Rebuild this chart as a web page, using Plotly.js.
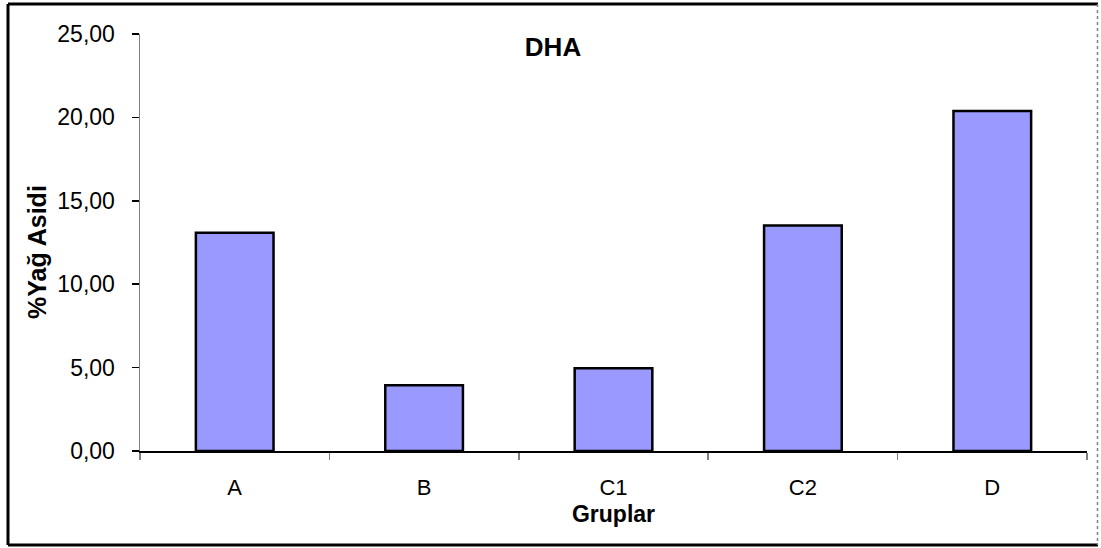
<!DOCTYPE html>
<html>
<head>
<meta charset="utf-8">
<script src="https://cdn.plot.ly/plotly-3.0.1.min.js"></script>
<style>
  html, body { margin: 0; padding: 0; background: #fff; }
  #chart { width: 1101px; height: 548px; }
</style>
</head>
<body>
<div id="chart"></div>
<script>
// Data
const categories = ["A", "B", "C1", "C2", "D"];
const values = [13.08, 3.94, 4.96, 13.52, 20.39];
const chartTitle = "DHA";
const xTitle = "Gruplar";
const yTitle = "%Yağ Asidi";

const FONT = "Liberation Sans, Arial, sans-serif";

const trace = {
  type: "bar",
  x: categories,
  y: values,
  marker: { color: "#9999FF", line: { color: "#000000", width: 2.5 } },
  hoverinfo: "x+y"
};

// helpers: convert page pixels to paper coordinates of the plot area
const PL = 140, PW = 947, PB = 451, PH = 417;
const px = v => (v - PL) / PW;
const py = v => (PB - v) / PH;

const layout = {
  width: 1101,
  height: 548,
  paper_bgcolor: "#ffffff",
  plot_bgcolor: "#ffffff",
  margin: { l: 140, r: 14, t: 34, b: 97 },
  bargap: 0.59,
  showlegend: false,
  separators: ",.",
  font: { family: FONT, color: "#000000", size: 23 },
  title: {
    text: "<b>" + chartTitle + "</b>",
    font: { family: FONT, size: 26, color: "#000000" },
    xref: "paper", x: px(553), xanchor: "center",
    yref: "container", y: 1 - 47 / 548, yanchor: "middle"
  },
  xaxis: {
    type: "category",
    showline: true, linecolor: "#000000", linewidth: 1.5,
    showgrid: false, zeroline: false,
    ticks: "outside", tickson: "boundaries", ticklen: 7, tickcolor: "#808080", tickwidth: 1.5,
    tickfont: { family: FONT, size: 22, color: "#000000" },
    ticklabelstandoff: 16,
    title: { text: "<b>" + xTitle + "</b>", font: { family: FONT, size: 23, color: "#000000" }, standoff: 7 },
    fixedrange: true
  },
  yaxis: {
    range: [0, 25],
    dtick: 5,
    tick0: 0,
    tickformat: ".2f",
    showline: true, linecolor: "#808080", linewidth: 1.5,
    showgrid: false, zeroline: false,
    ticks: "outside", ticklen: 7, tickcolor: "#000000", tickwidth: 1.5,
    tickfont: { family: FONT, size: 23, color: "#000000" },
    ticklabelstandoff: 12,
    fixedrange: true
  },
  annotations: [
    {
      text: "<b>" + yTitle + "</b>",
      xref: "paper", yref: "paper", x: px(37), y: py(252),
      xanchor: "center", yanchor: "middle", textangle: -90, showarrow: false,
      font: { family: FONT, size: 25, color: "#000000" }
    }
  ],
  shapes: [
    // outer chart frame
    { type: "line", xref: "paper", yref: "paper", x0: px(8), x1: px(1098), y0: py(4), y1: py(4), line: { color: "#000000", width: 3 } },
    { type: "line", xref: "paper", yref: "paper", x0: px(8), x1: px(8), y0: py(4), y1: py(545), line: { color: "#000000", width: 3 } },
    { type: "line", xref: "paper", yref: "paper", x0: px(8), x1: px(1098), y0: py(545), y1: py(545), line: { color: "#000000", width: 3 } },
    { type: "line", xref: "paper", yref: "paper", x0: px(1097.5), x1: px(1097.5), y0: py(4), y1: py(545), line: { color: "#808080", width: 1.5, dash: "dot" } }
  ]
};

Plotly.newPlot("chart", [trace], layout, { displayModeBar: false, staticPlot: true });
</script>
</body>
</html>
